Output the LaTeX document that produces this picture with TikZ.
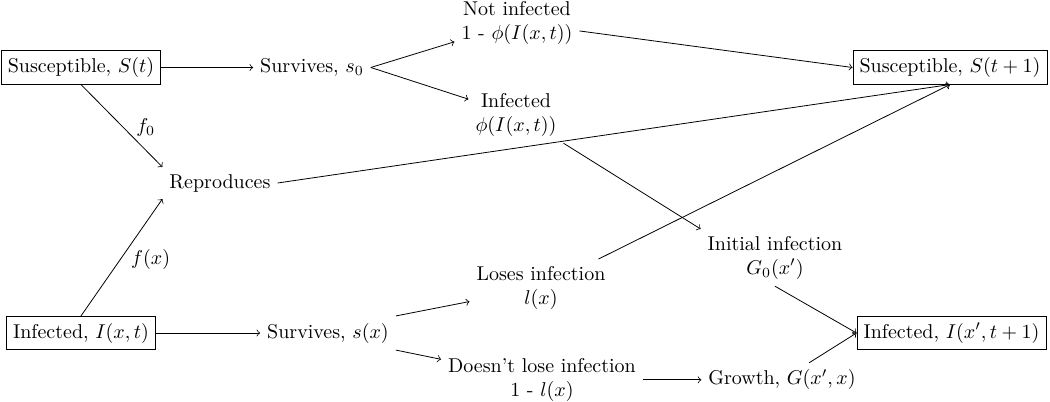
\documentclass[tikz,border=0pt]{standalone}
\usetikzlibrary{calc}
\tikzset{
  stage/.style={
    inner sep=3.33pt
  },
  stage-box/.style={
    stage,
    draw=black,
    rectangle
  },
  stage-two/.style={
    stage,
    align=center
  },
  flow/.style={->, line width=0.4pt}
}

\begin{document}
\begin{tikzpicture}
  \useasboundingbox (0,0) rectangle (18.452,-7.047);
  % Boxes at t and t+1
  \node[stage-box] (St) at (1.423,-1.186) {Susceptible, $S(t)$};
  \node[stage-box] (It) at (1.423,-5.852) {Infected, $I(x,t)$};
  \node[stage-box] (St1) at (16.694,-1.186) {Susceptible, $S(t+1)$};
  \node[stage-box] (It1) at (16.72,-5.852) {Infected, $I(x',t+1)$};
  % Steps in between
  \node[stage] (SurvS) at (5.483,-1.186) {Survives, $s_0$};
  \node[stage] (SurvI) at (5.764,-5.852) {Survives, $s(x)$};
  \node[stage] (Repro) at (3.866,-3.216) {Reproduces};
  \node[stage-two] (NotInf) at (9.085,-0.397) {Not infected\\1 - $\phi(I(x,t))$};
  \node[stage-two] (Inf) at (9.068,-2.014) {Infected\\$\phi(I(x,t))$};
  \node[stage-two] (Loses) at (9.507,-5.054) {Loses infection\\$l(x)$};
  \node[stage-two] (Keeps) at (9.524,-6.675) {Doesn't lose infection\\1 - $l(x)$};
  \node[stage-two] (Init) at (13.619,-4.527) {Initial infection\\$G_0(x')$};
  \node[stage] (Growth) at (13.742,-6.675) {Growth, $G(x',x)$};
  % Susceptible paths
  \draw[flow] (St.east) -- (SurvS.west);
  \draw[flow] (St.south) -- node[right, pos=0.52, xshift=3pt] {$f_0$} (Repro.north west);
  \draw[flow] (SurvS.east) -- (NotInf);
  \draw[flow] (SurvS.east) -- (Inf);
  \draw[flow] (NotInf) -- (St1.west);
  \draw[flow] (Repro.east) -- (St1.south);
  \draw[flow] (Inf.south east) -- (Init.north west);
  % Infected paths
  \draw[flow] (It.north) -- node[right, pos=0.48, xshift=2pt] {$f(x)$} (Repro.south west);
  \draw[flow] (It.east) -- (SurvI.west);
  \draw[flow] (SurvI.north east) -- (Loses);
  \draw[flow] (SurvI.south east) -- (Keeps);
  \draw[flow] (Loses) -- (St1.south);
  \draw[flow] (Keeps) -- (Growth);
  \draw[flow] (Init.south) -- (It1.west);
  \draw[flow] (Growth) -- (It1.west);
\end{tikzpicture}
\end{document}
